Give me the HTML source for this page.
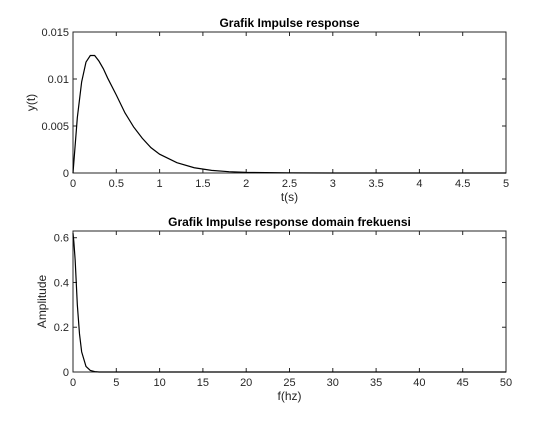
<!DOCTYPE html>
<html><head><meta charset="utf-8"><style>
body{margin:0;background:#fff;}
svg{font-family:"Liberation Sans",Arial,sans-serif;}
</style></head><body>
<svg id="chart" width="560" height="420" xmlns="http://www.w3.org/2000/svg">
<rect width="560" height="420" fill="#fff"/>
</svg>
<script>
const tVals=[0,0.05,0.1,0.15,0.2,0.25,0.3,0.35,0.4,0.5,0.6,0.7,0.8,0.9,1.0,1.2,1.4,1.6,1.8,2.0,2.5,3,5];
const yVals=[0,0.0059,0.0097,0.0118,0.0125,0.0125,0.0119,0.0111,0.0101,0.0083,0.0064,0.0049,0.0037,0.0027,0.0020,0.0011,0.00056,0.00028,0.00014,0.00007,0.00001,0,0];
const fVals=[0,0.1,0.25,0.5,0.75,1,1.5,2,2.5,3,50];
const ampVals=[0.62,0.58,0.5,0.3,0.17,0.09,0.025,0.007,0.002,0,0];
const topXTicks=[0,0.5,1,1.5,2,2.5,3,3.5,4,4.5,5];
const topYTicks=[0,0.005,0.01,0.015];
const botXTicks=[0,5,10,15,20,25,30,35,40,45,50];
const botYTicks=[0,0.2,0.4,0.6];
const NS='http://www.w3.org/2000/svg';
const svg=document.getElementById('chart');
function mk(tag,attrs,parent){const e=document.createElementNS(NS,tag);for(const k in attrs)e.setAttribute(k,attrs[k]);(parent||svg).appendChild(e);return e;}
function panel(o){
  const L=73,R=506,T=o.top,B=o.bottom;
  const sx=v=>L+(v-o.xmin)/(o.xmax-o.xmin)*(R-L);
  const sy=v=>B-(v-o.ymin)/(o.ymax-o.ymin)*(B-T);
  const g=mk('g',{});
  
  
  const box=mk('rect',{x:L,y:T,width:R-L,height:B-T,fill:'#fff',stroke:'#262626','stroke-width':1},g);
  
  
  o.xticks.forEach(v=>{const x=sx(v);
    mk('line',{x1:x,x2:x,y1:B,y2:B-4,stroke:'#262626'},g);
    mk('line',{x1:x,x2:x,y1:T,y2:T+4,stroke:'#262626'},g);
    const t=mk('text',{x:x,y:B+14,'text-anchor':'middle','font-size':11,fill:'#262626'},g);t.textContent=v;
    
    });
  o.yticks.forEach(v=>{const y=sy(v);
    mk('line',{x1:L,x2:L+4,y1:y,y2:y,stroke:'#262626'},g);
    mk('line',{x1:R,x2:R-4,y1:y,y2:y,stroke:'#262626'},g);
    const t=mk('text',{x:L-4,y:y+4,'text-anchor':'end','font-size':11,fill:'#262626'},g);t.textContent=v;
    
    });
  const d=o.xs.map((v,i)=>(i?'L':'M')+sx(v).toFixed(2)+','+sy(o.ys[i]).toFixed(2)).join(' ');
  const p=mk('path',{d:d,fill:'none',stroke:'#000','stroke-width':1.2},g);
  
  
  const ti=mk('text',{x:(L+R)/2,y:T-5,'text-anchor':'middle','font-size':12,'font-weight':'bold',fill:'#000'},g);ti.textContent=o.title;
  
  
  const xl=mk('text',{x:(L+R)/2,y:B+28,'text-anchor':'middle','font-size':12,fill:'#262626'},g);xl.textContent=o.xlabel;
  
  
  const yx=o.ylx, yy=(T+B)/2;
  const yl=mk('text',{x:yx,y:yy,'text-anchor':'middle','font-size':12,fill:'#262626',transform:`rotate(-90 ${yx} ${yy})`},g);yl.textContent=o.ylabel;
  
  
}
panel({name:'time-domain-panel',top:32,bottom:173,xmin:0,xmax:5,ymin:0,ymax:0.015,xticks:topXTicks,yticks:topYTicks,xs:tVals,ys:yVals,title:'Grafik Impulse response',xlabel:'t(s)',ylabel:'y(t)',ylx:35});
panel({name:'frequency-domain-panel',top:231,bottom:372,xmin:0,xmax:50,ymin:0,ymax:0.63,xticks:botXTicks,yticks:botYTicks,xs:fVals,ys:ampVals,title:'Grafik Impulse response domain frekuensi',xlabel:'f(hz)',ylabel:'Amplitude',ylx:46});
</script>
</body></html>
